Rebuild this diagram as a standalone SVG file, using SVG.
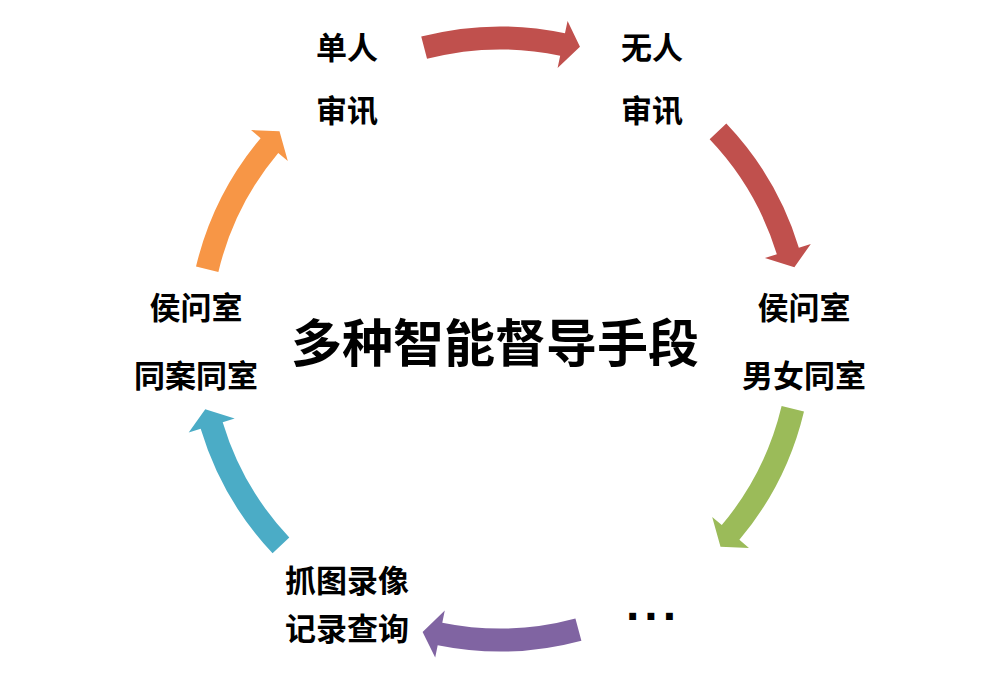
<svg xmlns="http://www.w3.org/2000/svg" xmlns:xlink="http://www.w3.org/1999/xlink" width="1000" height="678" viewBox="0 0 1000 678">
<style>
.lbl{font-family:"Noto Sans CJK SC","Noto Sans",sans-serif;font-weight:bold;font-size:31px;fill:#000;text-anchor:middle;dominant-baseline:central}
.title{font-family:"Noto Sans CJK SC","Noto Sans",sans-serif;font-weight:bold;font-size:51px;fill:#000;text-anchor:middle;dominant-baseline:central}
</style>
<defs>
<path id="arr" d="M803.99,411.42 A312.5,312.5 0 0 1 739.39,539.87 L748.96,547.91 L720.51,546.80 L712.19,517.05 L721.77,525.09 A289.5,289.5 0 0 0 781.62,406.09 Z"/>
</defs>
<rect width="1000" height="678" fill="#fff"/>
<g id="connectors">
<use xlink:href="#arr" fill="#C0504D" transform="rotate(-118 500 339)"/>
<use xlink:href="#arr" fill="#C0504D" transform="rotate(-57 500 339)"/>
<use xlink:href="#arr" fill="#9BBB59"/>
<use xlink:href="#arr" fill="#8064A2" transform="rotate(61.5 500 339)"/>
<use xlink:href="#arr" fill="#4BACC6" transform="rotate(123.3 500 339)"/>
<use xlink:href="#arr" fill="#F79646" transform="rotate(180 500 339)"/>
</g>
<g id="center"><text class="title" x="495" y="340">多种智能督导手段</text></g>
<g id="n1"><text class="lbl" x="347" y="45">单人</text><text class="lbl" x="347" y="108">审讯</text></g>
<g id="n2"><text class="lbl" x="652" y="45">无人</text><text class="lbl" x="652" y="108">审讯</text></g>
<g id="n3"><text class="lbl" x="804" y="305">侯问室</text><text class="lbl" x="804" y="373">男女同室</text></g>
<g id="n4"><text x="626" y="619.5" style="font-family:'Liberation Sans',sans-serif;font-weight:bold;font-size:48px;letter-spacing:5px">...</text></g>
<g id="n5"><text class="lbl" x="347" y="578">抓图录像</text><text class="lbl" x="347" y="626">记录查询</text></g>
<g id="n6"><text class="lbl" x="196" y="305">侯问室</text><text class="lbl" x="196" y="373">同案同室</text></g>
</svg>
